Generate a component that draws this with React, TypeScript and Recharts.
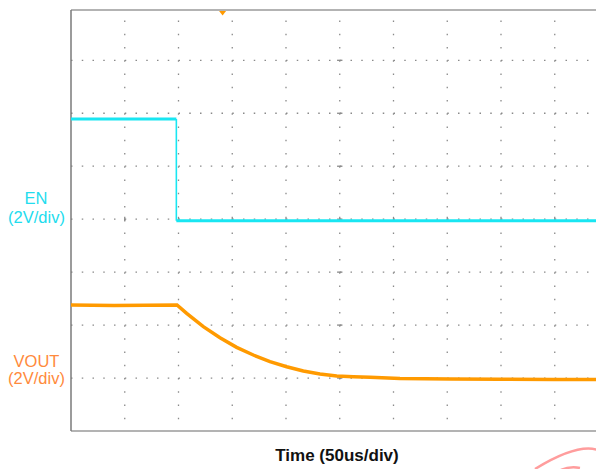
import React from "react";
import { LineChart, Line, XAxis, YAxis, ReferenceLine, ReferenceDot } from "recharts";

// time in microseconds (50 us/div, 10 divisions), value in graticule divisions (2 V/div)
const enTime = [0, 98, 98, 500];
const enLevel = [5.89, 5.89, 3.97, 3.97];

const voutTime = [0, 40, 98.6, 107.6, 123.1, 138.6, 154.1, 169.6, 185.1, 200.6, 216.1, 231.6, 247.2, 262.6, 278.1, 306, 352.6, 399, 450, 500];
const voutLevel = [2.38, 2.37, 2.38, 2.22, 1.97, 1.76, 1.58, 1.435, 1.31, 1.214, 1.133, 1.076, 1.039, 1.025, 1.014, 0.99, 0.98, 0.976, 0.974, 0.972];

const timeGrid = [50, 100, 150, 200, 250, 300, 350, 400, 450];
const divGrid = [1, 2, 3, 4, 5, 6, 7];
const timeDomain = [0, 500];
const divDomain = [0, 7.95];
const triggerTime = 141;
const centerTime = 250;
const centerDiv = 4;

const enPts = enTime.map((t, i) => ({ t, v: enLevel[i] }));
const enHigh = enPts.slice(0, 2);
const enEdge = enPts.slice(1, 3);
const enLow = enPts.slice(2);
const voutData = voutTime.map((t, i) => ({ t, v: voutLevel[i] }));

const Trigger = (props: any) => {
  const { cx, cy } = props;
  return (
    <polygon
      points={`${cx - 3.5},${cy + 1} ${cx + 3.5},${cy + 1} ${cx},${cy + 5.5}`}
      fill="#ff9a00"
    />
  );
};

const EN_COLOR = "#19e6f2";

export default function App() {
  return (
    <div style={{ position: "relative", width: 596, height: 461, overflow: "hidden", background: "#fff" }}>
      <LineChart
        width={604}
        height={461}
        margin={{ top: 2, left: 63, right: 3.5, bottom: 38 }}
      >
        <XAxis type="number" dataKey="t" domain={timeDomain} hide allowDataOverflow />
        <YAxis type="number" dataKey="v" domain={divDomain} hide allowDataOverflow />
        {timeGrid.map((t) => (
          <ReferenceLine
            key={"vx" + t}
            x={t}
            stroke="#8a8a8a"
            strokeWidth={1.3}
            strokeDasharray="1.5 11.74"
            strokeDashoffset={1.55}
          />
        ))}
        {divGrid.map((d) => (
          <ReferenceLine
            key={"hy" + d}
            y={d}
            stroke="#8a8a8a"
            strokeWidth={1.3}
            strokeDasharray="1.5 9.25"
          />
        ))}
        {divGrid.map((d) => (
          <ReferenceLine
            key={"cm" + d}
            segment={[{ x: centerTime - 2.5, y: d }, { x: centerTime + 2.5, y: d }]}
            stroke="#8a8a8a"
            strokeWidth={1.3}
          />
        ))}
        {timeGrid.map((t) => (
          <ReferenceLine
            key={"ct" + t}
            segment={[{ x: t, y: centerDiv - 0.045 }, { x: t, y: centerDiv + 0.045 }]}
            stroke="#8a8a8a"
            strokeWidth={1.3}
          />
        ))}
        <ReferenceLine y={divDomain[1]} stroke="#9a9a9a" strokeWidth={1.5} />
        <ReferenceLine y={0} stroke="#9a9a9a" strokeWidth={1.5} />
        <ReferenceLine x={0} stroke="#7a7a7a" strokeWidth={1.5} />
        <Line
          data={voutData}
          dataKey="v"
          type="linear"
          stroke="#ff9a00"
          strokeWidth={3.5}
          dot={false}
          isAnimationActive={false}
        />
        <Line data={enHigh} dataKey="v" type="linear" stroke={EN_COLOR} strokeWidth={3} dot={false} isAnimationActive={false} />
        <Line data={enEdge} dataKey="v" type="linear" stroke={EN_COLOR} strokeWidth={1.6} dot={false} isAnimationActive={false} />
        <Line data={enLow} dataKey="v" type="linear" stroke={EN_COLOR} strokeWidth={3} dot={false} isAnimationActive={false} />
        <ReferenceDot x={triggerTime} y={divDomain[1]} shape={Trigger} />
      </LineChart>
      <svg
        width={596}
        height={461}
        style={{ position: "absolute", left: 0, top: 0, pointerEvents: "none" }}
      >
        <g fontFamily="'Liberation Sans', Arial, sans-serif" fontSize={16.5} textAnchor="middle">
          <text x={28} y={196} fill="#22dcee">EN</text>
          <text x={28.5} y={214.5} fill="#22dcee">(2V/div)</text>
          <text x={28.5} y={358.5} fill="#ff8a3c">VOUT</text>
          <text x={28.5} y={375.5} fill="#ff8a3c">(2V/div)</text>
        </g>
        <text
          x={329}
          y={453}
          textAnchor="middle"
          fontFamily="'Liberation Sans', Arial, sans-serif"
          fontWeight="bold"
          fontSize={17}
          fill="#111"
        >
          Time (50us/div)
        </text>
        <path d="M527 461 Q576 431 596 445" fill="none" stroke="#ff9d9d" strokeWidth={2.5} />
        <path d="M553 462 Q562 458 572 460" fill="none" stroke="#ff9d9d" strokeWidth={2.5} />
      </svg>
    </div>
  );
}
